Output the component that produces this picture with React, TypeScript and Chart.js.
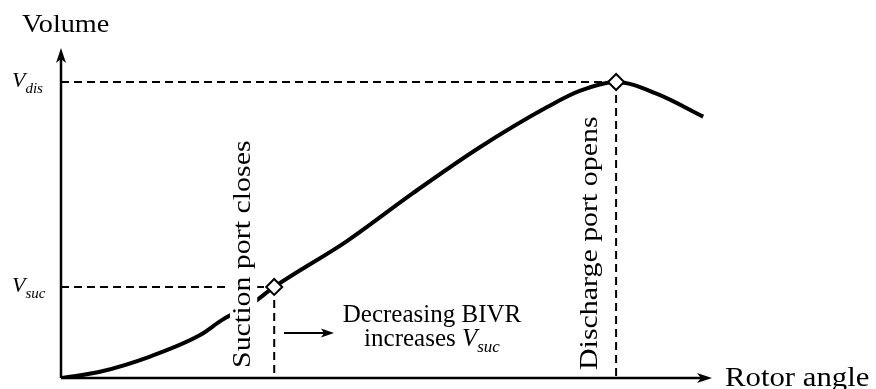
import React, { useEffect, useRef } from "react";
import { Chart, registerables } from "chart.js";

Chart.register(...registerables);

// Rotor angle (arbitrary units, 0-100) and chamber volume (arbitrary units, 0-100)
const rotorAngle = [0, 6.0, 13.7, 21.4, 24.8, 29.5, 32.8, 44.0, 54.2, 64.5, 74.8, 79.8, 85.4, 91.7, 98.8];
const volume = [0, 1.9, 6.5, 13.0, 17.6, 22.7, 27.6, 41.5, 56.1, 70.0, 82.1, 87.0, 89.7, 86.1, 79.2];

// Key events
const suctionAngle = 32.8;
const suctionVolume = 27.6;
const dischargeAngle = 85.4;
const dischargeVolume = 89.7;

const xTitle = "Rotor angle";
const yTitle = "Volume";
const suctionLabel = "Suction port closes";
const dischargeLabel = "Discharge port opens";
const noteLine1 = "Decreasing BIVR";
const noteLine2 = "increases ";

const SERIF = '"Liberation Serif", "Times New Roman", serif';

const schematicPlugin = {
  id: "schematic",
  beforeDatasetsDraw(chart: any) {
    const { ctx, chartArea } = chart;
    const xs = chart.scales.x;
    const ys = chart.scales.y;
    const x0 = chartArea.left;
    const y0 = chartArea.bottom;
    ctx.save();
    ctx.strokeStyle = "#000";
    ctx.lineWidth = 2;
    ctx.setLineDash([8, 5]);
    const sx = xs.getPixelForValue(suctionAngle);
    const sy = ys.getPixelForValue(suctionVolume);
    const dx = xs.getPixelForValue(dischargeAngle);
    const dy = ys.getPixelForValue(dischargeVolume);
    ctx.beginPath();
    ctx.moveTo(x0, sy);
    ctx.lineTo(sx, sy);
    ctx.moveTo(sx, sy);
    ctx.lineTo(sx, y0);
    ctx.moveTo(x0, dy);
    ctx.lineTo(dx, dy);
    ctx.moveTo(dx, dy);
    ctx.lineTo(dx, y0);
    ctx.stroke();
    ctx.restore();
  },
  afterDatasetsDraw(chart: any) {
    const { ctx, chartArea } = chart;
    const xs = chart.scales.x;
    const ys = chart.scales.y;
    const x0 = chartArea.left;
    const y0 = chartArea.bottom;
    const xEnd = chartArea.right + 1;
    const yEnd = chartArea.top;
    ctx.save();
    ctx.fillStyle = "#000";
    ctx.strokeStyle = "#000";
    ctx.setLineDash([]);

    // rotated labels with white background
    const rot = (text: string, bx: number, by: number, size: number, stretch: number) => {
      ctx.save();
      ctx.translate(bx, by);
      ctx.rotate(-Math.PI / 2);
      ctx.scale(stretch, 1);
      ctx.font = `${size}px ${SERIF}`;
      ctx.textAlign = "left";
      ctx.textBaseline = "alphabetic";
      const w = ctx.measureText(text).width;
      ctx.fillStyle = "#fff";
      ctx.fillRect(-2, -size * 0.78, w + 4, size * 1.05);
      ctx.fillStyle = "#000";
      ctx.fillText(text, 0, 0);
      ctx.restore();
    };
    const sx = xs.getPixelForValue(suctionAngle);
    const dx = xs.getPixelForValue(dischargeAngle);
    rot(suctionLabel, sx - 24, y0 - 10, 26, 1.15);
    rot(dischargeLabel, dx - 19, y0 - 8, 26, 1.15);

    // axes
    ctx.lineWidth = 2.5;
    ctx.beginPath();
    ctx.moveTo(x0, y0);
    ctx.lineTo(xEnd - 8, y0);
    ctx.moveTo(x0, y0);
    ctx.lineTo(x0, yEnd + 8);
    ctx.stroke();
    // arrowheads
    ctx.beginPath();
    ctx.moveTo(xEnd, y0);
    ctx.lineTo(xEnd - 15, y0 - 5);
    ctx.lineTo(xEnd - 11, y0);
    ctx.lineTo(xEnd - 15, y0 + 5);
    ctx.closePath();
    ctx.fill();
    ctx.beginPath();
    ctx.moveTo(x0, yEnd);
    ctx.lineTo(x0 - 5, yEnd + 15);
    ctx.lineTo(x0, yEnd + 11);
    ctx.lineTo(x0 + 5, yEnd + 15);
    ctx.closePath();
    ctx.fill();

    const stretched = (text: string, x: number, y: number, font: string, stretch: number) => {
      ctx.save();
      ctx.translate(x, y);
      ctx.scale(stretch, 1);
      ctx.font = font;
      ctx.textAlign = "left";
      ctx.textBaseline = "alphabetic";
      ctx.fillText(text, 0, 0);
      const w = ctx.measureText(text).width * stretch;
      ctx.restore();
      return w;
    };

    // axis titles
    stretched(yTitle, 22, 32, `25px ${SERIF}`, 1.13);
    stretched(xTitle, 725, 386, `27px ${SERIF}`, 1.14);

    // V labels
    const dyPix = ys.getPixelForValue(dischargeVolume);
    const syPix = ys.getPixelForValue(suctionVolume);
    let w = stretched("V", 12, dyPix + 5, `italic 22px ${SERIF}`, 1);
    stretched("dis", 12 + w, dyPix + 11, `italic 15px ${SERIF}`, 1);
    w = stretched("V", 12, syPix + 5, `italic 22px ${SERIF}`, 1);
    stretched("suc", 12 + w, syPix + 11, `italic 15px ${SERIF}`, 1);

    // note
    ctx.font = `25px ${SERIF}`;
    const cx = 432;
    const w1 = ctx.measureText(noteLine1).width;
    stretched(noteLine1, cx - w1 / 2, 322, `25px ${SERIF}`, 1);
    ctx.font = `25px ${SERIF}`;
    const a = ctx.measureText(noteLine2).width;
    ctx.font = `italic 25px ${SERIF}`;
    const b = ctx.measureText("V").width;
    ctx.font = `italic 17px ${SERIF}`;
    const c = ctx.measureText("suc").width;
    const start = cx - (a + b + c) / 2;
    stretched(noteLine2, start, 346, `25px ${SERIF}`, 1);
    stretched("V", start + a, 346, `italic 25px ${SERIF}`, 1);
    stretched("suc", start + a + b, 352, `italic 17px ${SERIF}`, 1);

    // small arrow
    ctx.lineWidth = 2;
    ctx.beginPath();
    ctx.moveTo(284, 333);
    ctx.lineTo(325, 333);
    ctx.stroke();
    ctx.beginPath();
    ctx.moveTo(334, 333);
    ctx.lineTo(321, 328.5);
    ctx.lineTo(324, 333);
    ctx.lineTo(321, 337.5);
    ctx.closePath();
    ctx.fill();

    ctx.restore();
  },
};

export default function App() {
  const ref = useRef<HTMLCanvasElement>(null);
  useEffect(() => {
    if (!ref.current) return;
    const chart = new Chart(ref.current, {
      type: "scatter",
      data: {
        datasets: [
          {
            data: rotorAngle.map((x, i) => ({ x, y: volume[i] })),
            showLine: true,
            borderColor: "#000",
            borderWidth: 4,
            pointRadius: 0,
            cubicInterpolationMode: "monotone",
            order: 2,
          },
          {
            data: [
              { x: suctionAngle, y: suctionVolume },
              { x: dischargeAngle, y: dischargeVolume },
            ],
            showLine: false,
            pointStyle: "rectRot",
            pointRadius: 8,
            pointBorderWidth: 2,
            pointBackgroundColor: "#fff",
            pointBorderColor: "#000",
            order: 1,
          },
        ],
      },
      plugins: [schematicPlugin],
      options: {
        responsive: false,
        animation: false,
        layout: { padding: { left: 61, right: 165, top: 48, bottom: 11 } },
        scales: {
          x: { type: "linear", min: 0, max: 100, display: false },
          y: { type: "linear", min: 0, max: 100, display: false },
        },
        plugins: { legend: { display: false }, tooltip: { enabled: false } },
      },
    });
    return () => chart.destroy();
  }, []);
  return (
    <div style={{ position: "fixed", left: 0, top: 0, width: 876, height: 389, background: "#fff" }}>
      <canvas ref={ref} width={876} height={389} />
    </div>
  );
}
